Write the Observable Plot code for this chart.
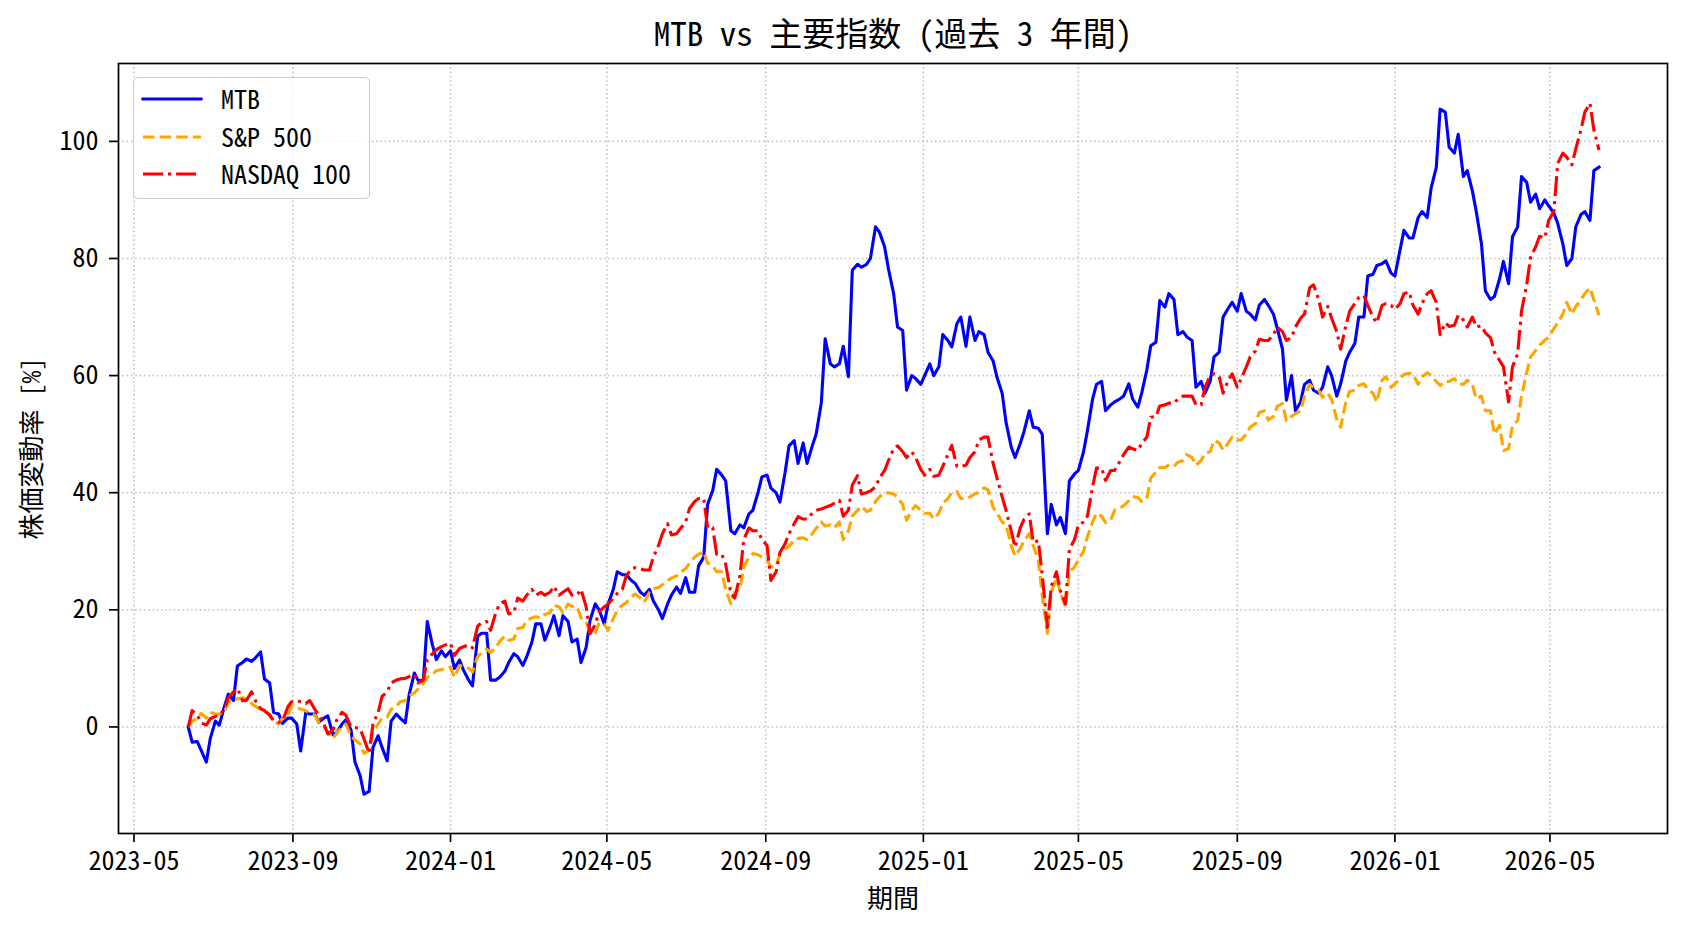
<!DOCTYPE html>
<html>
<head>
<meta charset="utf-8">
<script src="https://cdn.jsdelivr.net/npm/d3@7"></script>
<script src="https://cdn.jsdelivr.net/npm/@observablehq/plot@0.6"></script>
<style>
  html, body { margin: 0; padding: 0; background: #fff; }
  #wrap { position: relative; width: 1688px; height: 932px; }
  #legend { position: absolute; left: 133px; top: 77px; width: 237px; height: 122px;
            border: 1.6px solid #cccccc; border-radius: 5px; background: rgba(255,255,255,0.8); box-sizing: border-box; }
  .lrow { position: absolute; left: 0; height: 30px; width: 100%; }
  .lrow svg { position: absolute; left: 7px; top: 10px; }
  .lrow span { position: absolute; left: 87px; top: -4px; font-size: 26px; line-height: 36px; color: #000;
               transform-origin: left center; white-space: nowrap; }
</style>
</head>
<body>
<div id="wrap"></div>
<script>
// ---- data: readings on Mondays (dates) and Thursdays (midDates), % change since start ----
const dates = [
"2023-06-12","2023-06-19","2023-06-26","2023-07-03","2023-07-10","2023-07-17","2023-07-24","2023-07-31","2023-08-07","2023-08-14",
"2023-08-21","2023-08-28","2023-09-04","2023-09-11","2023-09-18","2023-09-25","2023-10-02","2023-10-09","2023-10-16","2023-10-23",
"2023-10-30","2023-11-06","2023-11-13","2023-11-20","2023-11-27","2023-12-04","2023-12-11","2023-12-18","2023-12-25","2024-01-01",
"2024-01-08","2024-01-15","2024-01-22","2024-01-29","2024-02-05","2024-02-12","2024-02-19","2024-02-26","2024-03-04","2024-03-11",
"2024-03-18","2024-03-25","2024-04-01","2024-04-08","2024-04-15","2024-04-22","2024-04-29","2024-05-06","2024-05-13","2024-05-20",
"2024-05-27","2024-06-03","2024-06-10","2024-06-17","2024-06-24","2024-07-01","2024-07-08","2024-07-15","2024-07-22","2024-07-29",
"2024-08-05","2024-08-12","2024-08-19","2024-08-26","2024-09-02","2024-09-09","2024-09-16","2024-09-23","2024-09-30","2024-10-07",
"2024-10-14","2024-10-21","2024-10-28","2024-11-04","2024-11-11","2024-11-18","2024-11-25","2024-12-02","2024-12-09","2024-12-16",
"2024-12-23","2024-12-30","2025-01-06","2025-01-13","2025-01-20","2025-01-27","2025-02-03","2025-02-10","2025-02-17","2025-02-24",
"2025-03-03","2025-03-10","2025-03-17","2025-03-24","2025-03-31","2025-04-07","2025-04-14","2025-04-21","2025-04-28","2025-05-05",
"2025-05-12","2025-05-19","2025-05-26","2025-06-02","2025-06-09","2025-06-16","2025-06-23","2025-06-30","2025-07-07","2025-07-14",
"2025-07-21","2025-07-28","2025-08-04","2025-08-11","2025-08-18","2025-08-25","2025-09-01","2025-09-08","2025-09-15","2025-09-22",
"2025-09-29","2025-10-06","2025-10-13","2025-10-20","2025-10-27","2025-11-03","2025-11-10","2025-11-17","2025-11-24","2025-12-01",
"2025-12-08","2025-12-15","2025-12-22","2025-12-29","2026-01-05","2026-01-12","2026-01-19","2026-01-26","2026-02-02","2026-02-09",
"2026-02-16","2026-02-23","2026-03-02","2026-03-09","2026-03-16","2026-03-23","2026-03-30","2026-04-06","2026-04-13","2026-04-20",
"2026-04-27","2026-05-04","2026-05-11","2026-05-18","2026-05-25","2026-06-01","2026-06-08"
];
const midDates = [
"2023-06-15","2023-06-22","2023-06-29","2023-07-06","2023-07-13","2023-07-20","2023-07-27","2023-08-03","2023-08-10","2023-08-17",
"2023-08-24","2023-08-31","2023-09-07","2023-09-14","2023-09-21","2023-09-28","2023-10-05","2023-10-12","2023-10-19","2023-10-26",
"2023-11-02","2023-11-09","2023-11-16","2023-11-23","2023-11-30","2023-12-07","2023-12-14","2023-12-21","2023-12-28","2024-01-04",
"2024-01-11","2024-01-18","2024-01-25","2024-02-01","2024-02-08","2024-02-15","2024-02-22","2024-02-29","2024-03-07","2024-03-14",
"2024-03-21","2024-03-28","2024-04-04","2024-04-11","2024-04-18","2024-04-25","2024-05-02","2024-05-09","2024-05-16","2024-05-23",
"2024-05-30","2024-06-06","2024-06-13","2024-06-20","2024-06-27","2024-07-04","2024-07-11","2024-07-18","2024-07-25","2024-08-01",
"2024-08-08","2024-08-15","2024-08-22","2024-08-29","2024-09-05","2024-09-12","2024-09-19","2024-09-26","2024-10-03","2024-10-10",
"2024-10-17","2024-10-24","2024-10-31","2024-11-07","2024-11-14","2024-11-21","2024-11-28","2024-12-05","2024-12-12","2024-12-19",
"2024-12-26","2025-01-02","2025-01-09","2025-01-16","2025-01-23","2025-01-30","2025-02-06","2025-02-13","2025-02-20","2025-02-27",
"2025-03-06","2025-03-13","2025-03-20","2025-03-27","2025-04-03","2025-04-10","2025-04-17","2025-04-24","2025-05-01","2025-05-08",
"2025-05-15","2025-05-22","2025-05-29","2025-06-05","2025-06-12","2025-06-19","2025-06-26","2025-07-03","2025-07-10","2025-07-17",
"2025-07-24","2025-07-31","2025-08-07","2025-08-14","2025-08-21","2025-08-28","2025-09-04","2025-09-11","2025-09-18","2025-09-25",
"2025-10-02","2025-10-09","2025-10-16","2025-10-23","2025-10-30","2025-11-06","2025-11-13","2025-11-20","2025-11-27","2025-12-04",
"2025-12-11","2025-12-18","2025-12-25","2026-01-01","2026-01-08","2026-01-15","2026-01-22","2026-01-29","2026-02-05","2026-02-12",
"2026-02-19","2026-02-26","2026-03-05","2026-03-12","2026-03-19","2026-03-26","2026-04-02","2026-04-09","2026-04-16","2026-04-23",
"2026-04-30","2026-05-07","2026-05-14","2026-05-21","2026-05-28","2026-06-04"
];

const mtb = [
0, -2.5, -6, 1, 3.5, 4.5, 11, 11.2, 12.8, 7.5,
2.2, 1.5, 0.5, 2.5, 2.2, 1.5, -1.3, 0.5, -0.5, -8.3,
-11, -1.5, -5.8, 2.2, 0.7, 9.2, 8, 14, 13, 13,
11.4, 8, 15.5, 16, 8, 9.5, 12.5, 10.5, 14.5, 17.6,
17, 15.6, 18, 15, 13.6, 21, 17.6, 23.5, 26, 25,
23, 23.5, 20, 21, 23.9, 25.5, 23, 29, 40.4, 43,
33.5, 34.5, 36.4, 40, 43, 40, 43.5, 48.9, 48.5, 48,
55.3, 62, 62, 59.8, 79, 79, 85.4, 82, 74, 67.7,
60, 58.5, 62, 61.5, 66, 68.9, 65, 66, 67, 62.5,
57, 47.8, 48.4, 54, 51, 33, 34.5, 33, 43.2, 47,
56, 59, 55, 56, 58.6, 54.6, 61, 65.7, 71.7, 73,
67.5, 66, 59, 59, 64, 71.5, 71, 71, 69.5, 73,
70.5, 64.5, 60, 55.5, 59.2, 57, 61.5, 56.5, 62.5, 65.5,
70, 77.3, 79.1, 77.5, 81.5, 83.5, 87, 87, 95.5, 105,
98, 94, 91.5, 82.5, 73, 76.5, 75.7, 85.4, 93, 91,
90, 87.8, 82.5, 80, 87.5, 86.5, 95.6
];
const mtbMid = [
-2.6, -4, -2, 0.3, 5.6, 10.4, 11.6, 11.8, 8.2, 2.5,
0.6, 1.5, -4.1, 2.2, 0.8, 1.9, -1, 1.2, -6, -11.5,
-3.5, -3.5, 1, 1.5, 5.5, 7.9, 18, 11.5, 12, 10,
9.7, 7, 16, 8, 8.5, 11, 12, 12, 17.6, 14.8,
19, 19, 14.5, 11, 18.2, 20, 21, 26.5, 26, 24.5,
22.5, 21.5, 18.5, 22.5, 22.8, 23, 27.5, 38, 44, 42,
33, 34, 37, 42.7, 40.8, 38.4, 48, 45, 45, 50,
66.3, 61.5, 65, 78, 78.5, 80, 84.5, 78.2, 68.3, 57.5,
59.5, 60, 60, 67, 64.9, 70, 70, 67.5, 64, 59.7,
52, 46, 50.5, 51.2, 50, 38, 35.8, 42, 43.8, 50.6,
58.5, 54, 55.5, 56.5, 56, 57, 65.1, 72.8, 74, 67,
66.6, 58, 57, 63.2, 70, 72.5, 74, 70.5, 72, 72,
68, 55.8, 54, 58.5, 57.5, 58, 60, 58.6, 64, 70,
77, 78.8, 79.6, 77, 84.8, 83.5, 88, 92, 105.5, 99,
101.2, 95, 88, 74.5, 73.5, 79.5, 83.7, 94, 89.6, 88.5,
89, 86, 78.8, 85.4, 88, 95
];

const sp500 = [
0, 1.5, 1.5, 2.2, 2.5, 4.5, 5, 4, 3, 2.2,
0.5, 2, 3.5, 2.8, 2, 0, -2, 0, -1.5, -2.9,
-4, 0.5, 1.7, 3.5, 4.5, 5.8, 7.4, 9, 9.8, 10.2,
10.5, 10, 12, 13.3, 13.5, 15.5, 15, 17, 18.6, 18.6,
19.5, 20.5, 21, 20.5, 18, 16, 17.5, 18.5, 20.8, 22.2,
22, 23, 23.8, 25, 25.8, 27, 29, 29.9, 27.5, 26.5,
21, 23.5, 29, 29.4, 28.5, 27.5, 30.4, 31.9, 32.3, 33,
35, 34.5, 35, 33.5, 37, 36.8, 38.5, 40, 39.8, 38,
37, 37, 36.5, 36.5, 39, 40.2, 39, 39.8, 40.8, 37.5,
35, 31, 30.5, 33, 28.5, 16, 25.5, 20.5, 27.3, 30,
35, 36, 35.3, 37.3, 38.6, 39.2, 39, 43.5, 44.3, 44.5,
45.5, 46, 45.5, 47, 48.5, 48.5, 49, 50, 51.8, 54,
53, 55.2, 53, 54, 58.5, 57.5, 57, 52.5, 55.5, 57.5,
58.6, 57, 59.2, 58, 59.5, 60.4, 58.5, 60.5, 59, 59,
59.5, 58.5, 58.5, 56.5, 54, 51.5, 47.5, 52.3, 60.5, 64.3,
66, 68, 70.5, 70.5, 73, 75, 70.3
];
const sp500Mid = [
1, 2.3, 2.5, 2.2, 4.2, 4.8, 4.8, 3.5, 2.6, 1,
1.5, 3.6, 3, 2.3, 0.8, -0.8, -1, 0.5, -2.2, -4.5,
-0.8, 1.5, 3, 4.3, 5.3, 6.5, 8.5, 9.6, 10, 8.5,
10.3, 9.4, 12.7, 12.7, 14.6, 14.8, 16.8, 18.2, 18.8, 19.2,
20.8, 19.5, 20.6, 18.6, 16, 17.8, 16.5, 19.9, 21.2, 22.7,
21.3, 23.6, 24.3, 25.4, 26.4, 28, 29.5, 28, 26.5, 23.5,
23, 27.3, 29.6, 29, 27.3, 29.6, 30.8, 32.2, 32, 33.9,
34.3, 34, 32, 36, 37.7, 37, 39.3, 40, 39.2, 35.3,
37.8, 36.5, 35.5, 38.2, 40, 39, 39.3, 40.1, 40.5, 36.5,
34.5, 29.2, 31.8, 31, 22.5, 23, 23, 26.5, 28.5, 32.5,
36.5, 34.9, 37, 37.8, 39.3, 38.5, 42.5, 44.3, 44.7, 45.2,
46.5, 44.7, 46.7, 48.9, 47.3, 49.5, 49, 51.2, 53.7, 52.4,
54.8, 52.3, 53.5, 56.5, 58, 56.3, 56, 51.2, 57.3, 58.3,
57.7, 55.5, 59.8, 58.6, 60.2, 60.3, 59.8, 60, 58.3, 59,
58.6, 59.2, 56, 54, 50, 47.2, 51.5, 56.5, 63.2, 65.2,
66.6, 69, 72.5, 71.8, 74, 73
];

const nasdaq = [
0, 2, 0.3, 1.8, 3, 6, 4.5, 6, 3.1, 2,
0.8, 3.4, 4.5, 4, 3, 0.5, -0.5, 2.5, 0, -0.3,
-4.5, 2.5, 6, 8, 8.3, 9, 8, 12.5, 13.7, 14.3,
13.4, 14, 17.2, 18, 19.5, 21.5, 19.5, 21.5, 23.5, 23,
23, 22.5, 23.6, 22.5, 20.5, 17.5, 20.5, 22, 23.5, 27,
27, 26.8, 31, 34.7, 33, 35, 38.5, 39, 34, 29.5,
22.8, 25.8, 34, 33.5, 31, 26.5, 31.3, 34.7, 35.5, 36.5,
37.2, 37.8, 38.7, 37, 42.9, 40, 41, 43.8, 47.5, 47,
47, 44, 44, 43, 46.5, 44.5, 44.7, 47, 49.5, 45,
39.3, 33.5, 34, 36.4, 31.8, 17, 26.5, 21, 32, 35,
41, 44.2, 43.8, 45.3, 47.8, 47.2, 49.5, 53, 55, 55.3,
56.5, 56.5, 55, 60, 59.8, 59.2, 58, 61.5, 64.2, 66,
67, 67.5, 66.5, 69.8, 75, 73, 71.8, 67.5, 68.5, 72.3,
73.7, 70, 72, 72, 72.3, 74.3, 70.5, 74, 72.5, 69,
68.6, 69.5, 70, 68.5, 66.5, 62.6, 55.5, 63.7, 75.5, 82,
83.5, 88, 98, 96, 102, 106.5, 98.5
];
const nasdaqMid = [
2.8, 0.7, 1.4, 2, 5, 6.6, 4.5, 4.5, 2.8, 1.1,
1, 4.3, 4.3, 4.5, 2, -1.2, 1.2, 2, -0.1, -2,
0.5, 5.2, 7.5, 8.2, 8.6, 7.5, 11.5, 13.2, 14, 12.2,
13.7, 13.5, 17.8, 16.5, 21, 19.3, 22, 22.5, 22.5, 22.5,
24, 23, 22.5, 23.5, 15.9, 19.7, 21, 22.8, 25.8, 27.2,
26.8, 29, 33, 32.8, 33.9, 37.3, 39, 34, 29.5, 27.8,
22, 32, 33.5, 32, 25, 29.8, 33, 35.9, 35.5, 37,
37.5, 38.2, 36, 41.3, 39.8, 40.3, 42.5, 45.5, 48, 46,
46, 43, 42.8, 44.5, 48.1, 44.5, 46, 49, 49.5, 42.5,
37, 30.7, 35.5, 31.5, 26, 24, 23.3, 30.3, 34.5, 36,
44.2, 42.1, 43.8, 46.5, 47.5, 48.4, 52.9, 54.8, 55.3, 56,
56.5, 55, 58, 60.3, 57, 60.3, 59.5, 63.2, 66.2, 66,
68.3, 66, 68.3, 70.5, 75.5, 70, 69.8, 64.5, 71, 73.3,
72, 69, 72.3, 71.3, 74, 72, 72.3, 74.5, 67, 68.4,
70.3, 68.3, 68.3, 67.3, 64, 61.5, 61.5, 71, 80.2, 83.8,
86.5, 96.2, 97.3, 98.7, 105, 102
];

const seriesNames = ["MTB", "S&P 500", "NASDAQ 100"];
const xTickDates = ["2023-05-01","2023-09-01","2024-01-01","2024-05-01","2024-09-01","2025-01-01","2025-05-01","2025-09-01","2026-01-01","2026-05-01"];
const yTickValues = [0, 20, 40, 60, 80, 100];
const titleText = "MTB vs 主要指数 (過去 3 年間)";
const xLabel = "期間";
const yLabel = "株価変動率 [%]";

// ---- font choice: half-width monospaced CJK face if present ----
function fontPresent(name) {
  const c = document.createElement("canvas").getContext("2d");
  const s = "MTB vs 0123456789 主要指数 年間";
  c.font = "40px serif"; const a = c.measureText(s).width;
  c.font = `40px '${name}', serif`; const b = c.measureText(s).width;
  c.font = "40px monospace"; const a2 = c.measureText(s).width;
  c.font = `40px '${name}', monospace`; const b2 = c.measureText(s).width;
  return Math.abs(b - b2) < 0.5 && (Math.abs(a - b) > 0.5 || Math.abs(a2 - b2) > 0.5);
}
const monoOK = fontPresent("Noto Sans Mono CJK JP");
const FONT = monoOK ? "'Noto Sans Mono CJK JP', 'Noto Sans CJK JP', sans-serif" : "'Noto Sans CJK JP', sans-serif";
const SQUEEZE = monoOK ? 1 : 0.86;

// ---- build ----
const parse = d3.utcParse("%Y-%m-%d");
const toRows = (monVals, thuVals, name) =>
  dates.map((d, i) => ({date: parse(d), value: monVals[i], series: name}))
    .concat(midDates.map((d, i) => ({date: parse(d), value: thuVals[i], series: name})))
    .sort((a, b) => a.date - b.date);
const rowsMTB = toRows(mtb, mtbMid, seriesNames[0]);
const rowsSP = toRows(sp500, sp500Mid, seriesNames[1]);
const rowsNQ = toRows(nasdaq, nasdaqMid, seriesNames[2]);
const xTicks = xTickDates.map(parse);

const gridStyle = {stroke: "#b0b0b0", strokeOpacity: 0.75, strokeWidth: 1.6, strokeDasharray: "1.6,2.7"};

const chart = Plot.plot({
  width: 1688,
  height: 932,
  marginLeft: 118,
  marginRight: 21,
  marginTop: 63,
  marginBottom: 99,
  style: {fontFamily: FONT, fontSize: "26px", color: "#000", background: "#fff", overflow: "visible"},
  x: {type: "utc", domain: [parse("2023-04-19"), parse("2026-07-31")]},
  y: {domain: [-18.2, 113.3]},
  marks: [
    Plot.gridX(xTicks, gridStyle),
    Plot.gridY(yTickValues, gridStyle),
    Plot.line(rowsMTB, {x: "date", y: "value", stroke: "#0000ff", strokeWidth: 3.1, strokeLinejoin: "round", strokeLinecap: "square"}),
    Plot.line(rowsSP, {x: "date", y: "value", stroke: "#ffa500", strokeWidth: 3.1, strokeLinejoin: "round", strokeLinecap: "butt", strokeDasharray: "11.6,5"}),
    Plot.line(rowsNQ, {x: "date", y: "value", stroke: "#ff0000", strokeWidth: 3.1, strokeLinejoin: "round", strokeLinecap: "butt", strokeDasharray: "20,5,3.1,5"}),
    Plot.frame({stroke: "#000", strokeWidth: 1.7}),
    Plot.axisX(xTicks, {tickFormat: d3.utcFormat("%Y-%m"), tickSize: 9, tickPadding: 9, strokeWidth: 1.7, label: null, fontSize: 26, fontFamily: FONT}),
    Plot.axisY(yTickValues, {tickSize: 9, tickPadding: 11, strokeWidth: 1.7, label: null, fontSize: 26, fontFamily: FONT}),
    Plot.text([xLabel], {text: d => d, frameAnchor: "bottom", textAnchor: "middle", lineAnchor: "middle", dy: 66, fontSize: 26, fontFamily: FONT, fill: "#000"}),
    Plot.text([yLabel], {text: d => d, frameAnchor: "left", textAnchor: "middle", lineAnchor: "middle", dx: -86, rotate: -90, fontSize: 26, fontFamily: FONT, fill: "#000"}),
    Plot.text([titleText], {text: d => d, frameAnchor: "top", textAnchor: "middle", lineAnchor: "middle", dy: -28, fontSize: 33, fontFamily: FONT, fill: "#000"})
  ]
});

if (SQUEEZE !== 1) {
  chart.querySelectorAll("text").forEach(t => {
    const tr = t.getAttribute("transform") || "";
    t.setAttribute("transform", (tr + ` scale(${SQUEEZE},1)`).trim());
  });
}

const wrap = document.getElementById("wrap");
wrap.appendChild(chart);

// ---- legend ----
const legendItems = [
  {name: seriesNames[0], color: "#0000ff", dash: null},
  {name: seriesNames[1], color: "#ffa500", dash: "11.6,5"},
  {name: seriesNames[2], color: "#ff0000", dash: "20,5,3.1,5"}
];
const legend = document.createElement("div");
legend.id = "legend";
legendItems.forEach((it, i) => {
  const row = document.createElement("div");
  row.className = "lrow";
  row.style.top = (6 + i * 37.5) + "px";
  row.innerHTML = `<svg width="62" height="10"><line x1="2" y1="5" x2="60" y2="5" stroke="${it.color}" stroke-width="3.1" ${it.dash ? `stroke-dasharray="${it.dash}" stroke-linecap="butt"` : `stroke-linecap="square"`}/></svg><span></span>`;
  const sp = row.querySelector("span");
  sp.textContent = it.name;
  sp.style.fontFamily = FONT;
  sp.style.transform = `scaleX(${SQUEEZE})`;
  legend.appendChild(row);
});
wrap.appendChild(legend);
</script>
</body>
</html>
